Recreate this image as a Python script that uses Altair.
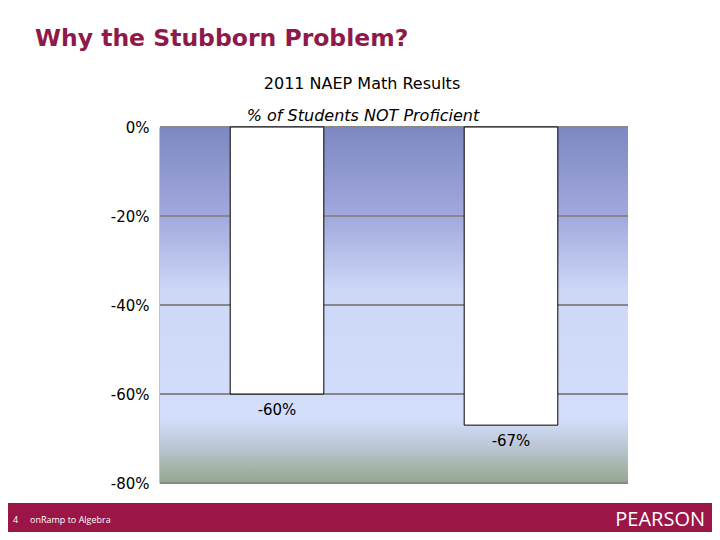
import altair as alt
import pandas as pd

# Data
categories = ["Grade 4", "Grade 8"]
values = [-60, -67]
labels = ["-60%", "-67%"]
tick_values = [0, -20, -40, -60, -80]

slide_title = "Why the Stubborn Problem?"
chart_title = "2011 NAEP Math Results"
chart_subtitle = "% of Students NOT Proficient"
footer_page = "4"
footer_text = "onRamp to Algebra"
footer_brand = "PEARSON"

W, H = 468, 356
PAD_L, PAD_T = 152, 119
TOTAL_W, TOTAL_H = 704, 524

bars_df = pd.DataFrame({"category": categories, "value": values, "label": labels})
grid_df = pd.DataFrame({"v": tick_values})
one = pd.DataFrame({"a": [0]})

yscale = alt.Scale(domain=[-80, 0], nice=False)
xscale = alt.Scale(paddingInner=0.6, paddingOuter=0.3)

gradient = alt.LinearGradient(
    gradient="linear",
    stops=[
        alt.GradientStop(color="#7f87c3", offset=0),
        alt.GradientStop(color="#a1a9dd", offset=0.25),
        alt.GradientStop(color="#cdd8f7", offset=0.46),
        alt.GradientStop(color="#d3defb", offset=0.82),
        alt.GradientStop(color="#bdc9d8", offset=0.89),
        alt.GradientStop(color="#95a68d", offset=1),
    ],
    x1=0, x2=0, y1=0, y2=1,
)

bg = alt.Chart(one).mark_rect(color=gradient).encode(
    x=alt.value(0), x2=alt.value(W), y=alt.value(0), y2=alt.value(H)
)

grid = alt.Chart(grid_df).mark_rule(color="#88888c", strokeWidth=2).encode(
    y=alt.Y("v:Q", scale=yscale,
            axis=alt.Axis(values=tick_values, labelExpr="datum.value + '%'",
                          title=None, ticks=False, grid=False,
                          domainColor="#88888c", domainWidth=2,
                          labelFont="DejaVu Sans", labelFontSize=15,
                          labelColor="#000000", labelPadding=11)),
    x=alt.value(0), x2=alt.value(W),
)

bars = alt.Chart(bars_df).mark_bar(fill="white", stroke="black", strokeWidth=1).encode(
    x=alt.X("category:N", scale=xscale, axis=None),
    y=alt.Y("value:Q", scale=yscale),
)

bar_text = alt.Chart(bars_df).mark_text(
    font="DejaVu Sans", fontSize=15, color="#000000", baseline="top", dy=9
).encode(
    x=alt.X("category:N", scale=xscale, axis=None),
    y=alt.Y("value:Q", scale=yscale),
    text="label:N",
)

def txt(s, x, y, **kw):
    return alt.Chart(one).mark_text(text=s, **kw).encode(x=alt.value(x), y=alt.value(y))

title = txt(slide_title, -125, -81, align="left", baseline="alphabetic",
            font="DejaVu Sans", fontWeight="bold", fontSize=23.5, color="#8e1a4b")
ctitle = txt(chart_title, 202, -38, align="center", baseline="alphabetic",
             font="DejaVu Sans", fontSize=16, color="#000000")
csub = txt(chart_subtitle, 203, -6, align="center", baseline="alphabetic",
           font="DejaVu Sans", fontStyle="italic", fontSize=16, color="#000000")

footer = alt.Chart(one).mark_rect(color="#9b1646").encode(
    x=alt.value(-PAD_L), x2=alt.value(TOTAL_W - PAD_L),
    y=alt.value(376), y2=alt.value(TOTAL_H - PAD_T),
)
f1 = txt(footer_page, -147, 393, align="left", baseline="middle",
         font="Open Sans", fontSize=9, color="white")
f2 = txt(footer_text, -130, 393, align="left", baseline="middle",
         font="Open Sans", fontSize=9, color="white")
f3 = txt(footer_brand, 545, 393, align="right", baseline="middle",
         font="Open Sans", fontSize=20, color="white")

chart = alt.layer(bg, grid, bars, bar_text, title, ctitle, csub, footer, f1, f2, f3).properties(
    width=W, height=H,
    autosize=alt.AutoSizeParams(type="none"),
    padding={"left": PAD_L, "top": PAD_T, "right": TOTAL_W - PAD_L - W, "bottom": TOTAL_H - PAD_T - H},
    background="white",
).configure_view(stroke=None)

chart.save("out.html", embed_options={"renderer": "svg", "actions": False})
